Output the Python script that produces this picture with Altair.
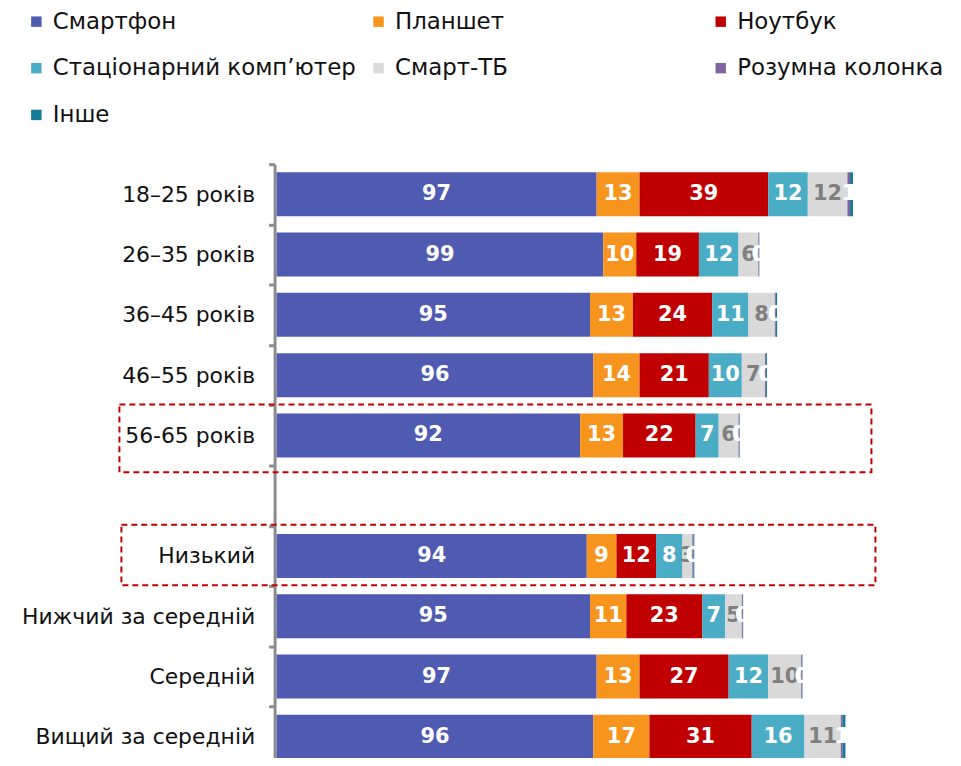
import altair as alt
import pandas as pd

groups = ["18–25 років", "26–35 років", "36–45 років", "46–55 років", "56-65 років",
          "Низький", "Нижчий за середній", "Середній", "Вищий за середній"]
axis_rows = groups[:5] + [" "] + groups[5:]

series = ["Смартфон", "Планшет", "Ноутбук", "Стаціонарний комп’ютер", "Смарт-ТБ",
          "Розумна колонка", "Інше"]
colors = ["#4F5BB0", "#F7941D", "#C00000", "#4BACC6", "#D9D9D9", "#8064A2", "#157A99"]

smartphone = [97, 99, 95, 96, 92, 94, 95, 97, 96]
tablet = [13, 10, 13, 14, 13, 9, 11, 13, 17]
laptop = [39, 19, 24, 21, 22, 12, 23, 27, 31]
desktop = [12, 12, 11, 10, 7, 8, 7, 12, 16]
smart_tv = [12, 6, 8, 7, 6, 3, 5, 10, 11]
speaker = [0.8, 0.2, 0.3, 0.3, 0.3, 0.3, 0.3, 0.3, 0.6]
other = [0.9, 0.1, 0.4, 0.3, 0.1, 0.3, 0.1, 0.1, 0.8]

highlighted = ["56-65 років", "Низький"]

values = [smartphone, tablet, laptop, desktop, smart_tv, speaker, other]
rows = []
for si, (s, vals) in enumerate(zip(series, values)):
    for g, v in zip(groups, vals):
        rows.append({"group": g, "series": s, "order": si, "value": v})
df = pd.DataFrame(rows)

font = "DejaVu Sans"

y_scale = alt.Scale(domain=axis_rows, paddingInner=0.27, paddingOuter=0.135, range=[0, 606])
x_scale = alt.Scale(domain=[0, 205], nice=False, zero=True)

base = alt.Chart(df).transform_stack(
    stack="value", groupby=["group"], sort=[alt.SortField("order")], as_=["x0", "x1"]
).transform_calculate(mid="(datum.x0 + datum.x1) / 2")

y_enc = alt.Y("group:N", scale=y_scale, sort=None, title=None,
              axis=alt.Axis(domainColor="#8C8C8C", domainWidth=3, tickColor="#8C8C8C",
                            tickWidth=3, tickSize=6, bandPosition=0, tickOffset=-8.2,
                            labelOffset=8.2, offset=2, labelFont=font, labelFontSize=22,
                            labelColor="#111111", labelPadding=14, labelLimit=400))

bars = base.mark_bar(strokeWidth=0).encode(
    y=y_enc,
    x=alt.X("x0:Q", scale=x_scale, axis=None),
    x2="x1:Q",
    color=alt.Color("series:N", scale=alt.Scale(domain=series, range=colors),
                    legend=alt.Legend(title=None, orient="none", direction="horizontal",
                                      legendX=-253, legendY=-155,
                                      columns=3, symbolType="square", symbolSize=110,
                                      symbolStrokeWidth=0, labelFont=font, labelFontSize=23,
                                      labelColor="#111111", columnPadding=11, rowPadding=23,
                                      gridAlign="all", labelLimit=500, labelOffset=5)),
    order=alt.Order("order:Q"),
)

labels = base.mark_text(font=font, fontSize=21, fontWeight="bold").encode(
    y=alt.Y("group:N", scale=y_scale, sort=None),
    x=alt.X("mid:Q", scale=x_scale),
    text=alt.Text("value:Q", format=".0f"),
    color=alt.condition(alt.datum.series == "Смарт-ТБ", alt.value("#7F7F7F"), alt.value("#FFFFFF")),
)

box_df = pd.DataFrame({"group": highlighted})
box1 = alt.Chart(box_df).transform_filter(alt.datum.group == highlighted[0]).mark_rect(
    fill=None, stroke="#C00000", strokeWidth=2, strokeDash=[6, 4], height=68, yOffset=3
).encode(y=alt.Y("group:N", scale=y_scale, sort=None), x=alt.value(-158), x2=alt.value(598))
box2 = alt.Chart(box_df).transform_filter(alt.datum.group == highlighted[1]).mark_rect(
    fill=None, stroke="#C00000", strokeWidth=2, strokeDash=[6, 4], height=61, yOffset=-1
).encode(y=alt.Y("group:N", scale=y_scale, sort=None), x=alt.value(-156), x2=alt.value(602))

chart = alt.layer(bars, labels, box1, box2).properties(
    width=680, height=595,
    autosize=alt.AutoSizeParams(type="none"),
    padding={"left": 270, "top": 155, "right": 0, "bottom": 0},
).configure_view(stroke=None)

chart.save("out.html", embed_options={"renderer": "svg", "actions": False})
